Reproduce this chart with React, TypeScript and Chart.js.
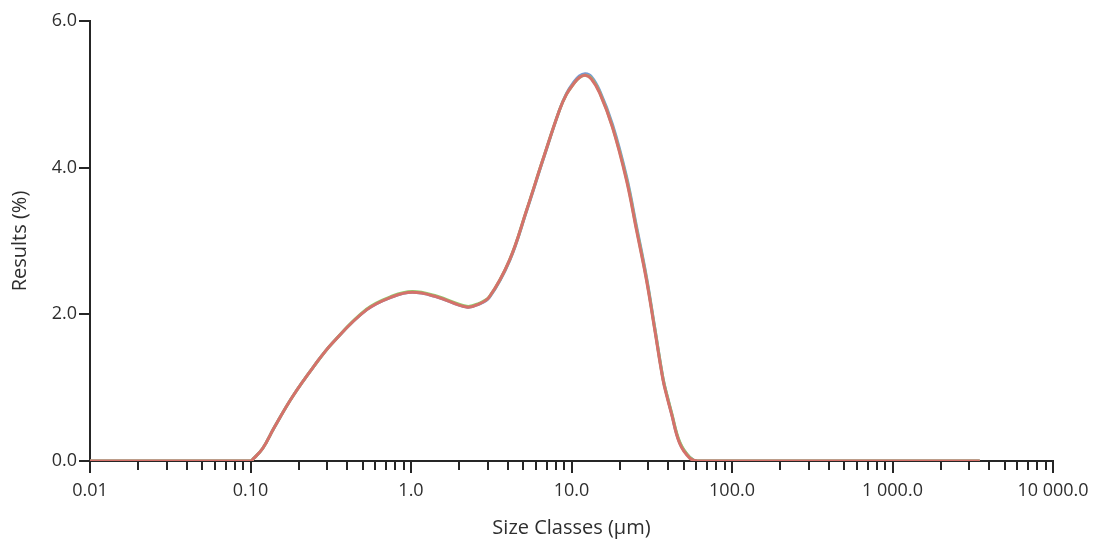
import { useEffect, useRef } from "react";
import { Chart, registerables } from "chart.js";

Chart.register(...registerables);

// Size classes (µm)
const sizeClasses = [
  0.01, 0.1, 0.104, 0.119, 0.14, 0.183, 0.25, 0.324, 0.528, 0.766, 1.02, 1.44,
  2.22, 2.65, 3.08, 4.11, 5.25, 6.61, 8.43, 9.3, 10.2, 11.2, 12.2, 13.3,
  14.97, 18.0, 22.0, 25.4, 29.3, 33.0, 37.2, 39.5, 41.9, 47.2, 54.5, 61, 3500,
];

// Results (%) for the three overlapping measurements
const seriesRed = [
  0, 0, 0.03, 0.17, 0.45, 0.88, 1.3, 1.61, 2.06, 2.24, 2.3, 2.24,
  2.1, 2.14, 2.24, 2.74, 3.42, 4.1, 4.79, 5.0, 5.13, 5.23, 5.26, 5.21,
  5.02, 4.55, 3.83, 3.15, 2.47, 1.79, 1.1, 0.86, 0.65, 0.24, 0.04, 0, 0,
];
const seriesGreen = [
  0, 0, 0.03, 0.17, 0.45, 0.88, 1.3, 1.61, 2.07, 2.25, 2.31, 2.25,
  2.11, 2.15, 2.24, 2.74, 3.42, 4.1, 4.79, 5.0, 5.13, 5.23, 5.26, 5.22,
  5.03, 4.56, 3.85, 3.17, 2.49, 1.81, 1.12, 0.88, 0.67, 0.26, 0.05, 0, 0,
];
const seriesBlue = [
  0, 0, 0.03, 0.17, 0.45, 0.88, 1.3, 1.61, 2.06, 2.24, 2.3, 2.24,
  2.1, 2.14, 2.23, 2.73, 3.41, 4.09, 4.79, 5.01, 5.15, 5.25, 5.28, 5.24,
  5.05, 4.59, 3.88, 3.2, 2.51, 1.82, 1.12, 0.88, 0.66, 0.25, 0.05, 0, 0,
];

const xTickValues = [0.01, 0.1, 1, 10, 100, 1000, 10000];
const xTickLabels = ["0.01", "0.10", "1.0", "10.0", "100.0", "1 000.0", "10 000.0"];
const yTickValues = [0, 2, 4, 6];
const yTickLabels = ["0.0", "2.0", "4.0", "6.0"];

const AXIS_COLOR = "#262626";
const TEXT_COLOR = "#2e2e2e";
const FONT = "'Open Sans', 'Noto Sans', sans-serif";

const isDecade = (v: number) => xTickValues.some((t) => Math.abs(Math.log10(v) - Math.log10(t)) < 1e-6);

const tickMarks = {
  id: "tickMarks",
  afterDraw(chart: any) {
    const xs = chart.scales.x;
    const ctx = chart.ctx;
    const bottom = chart.chartArea.bottom;
    ctx.save();
    ctx.strokeStyle = AXIS_COLOR;
    ctx.lineWidth = 2;
    xs.ticks.forEach((t: any) => {
      const px = Math.round(xs.getPixelForValue(t.value));
      const len = isDecade(t.value) ? 12 : 9;
      ctx.beginPath();
      ctx.moveTo(px, bottom);
      ctx.lineTo(px, bottom + len);
      ctx.stroke();
    });
    ctx.restore();
  },
};

function toXY(values: number[]) {
  return sizeClasses.map((s, i) => ({ x: s, y: values[i] }));
}

export default function App() {
  const ref = useRef<HTMLCanvasElement | null>(null);

  useEffect(() => {
    if (!ref.current) return;
    const mk = (label: string, values: number[], color: string) => ({
      label,
      data: toXY(values),
      borderColor: color,
      backgroundColor: color,
      borderWidth: 3,
      pointRadius: 0,
      fill: false,
      tension: 0.4,
    });
    const chart = new Chart(ref.current, {
      type: "line",
      data: {
        datasets: [
          mk("Red", seriesRed, "#d5716a"),
          mk("Green", seriesGreen, "#8fcf6e"),
          mk("Blue", seriesBlue, "#7596d6"),
        ],
      },
      plugins: [tickMarks],
      options: {
        animation: false,
        responsive: false,
        layout: { padding: { top: 21, right: 41, bottom: 0, left: 0 } },
        plugins: { legend: { display: false }, tooltip: { enabled: false } },
        scales: {
          x: {
            type: "logarithmic",
            min: 0.01,
            max: 10000,
            afterBuildTicks: (scale: any) => {
              const list: { value: number }[] = [];
              for (let i = 0; i < xTickValues.length - 1; i++) {
                for (let k = 1; k <= 9; k++) list.push({ value: xTickValues[i] * k });
              }
              list.push({ value: xTickValues[xTickValues.length - 1] });
              scale.ticks = list;
            },
            afterFit: (scale: any) => {
              scale.height = 81;
              scale.paddingLeft = 0;
              scale.paddingRight = 0;
            },
            grid: { display: false, drawTicks: false, drawOnChartArea: false },
            border: { display: true, color: AXIS_COLOR, width: 2 },
            ticks: {
              autoSkip: false,
              maxRotation: 0,
              padding: 19,
              color: TEXT_COLOR,
              font: { family: FONT, size: 18 },
              callback: (v: any) => {
                const idx = xTickValues.findIndex((t) => Math.abs(Math.log10(Number(v)) - Math.log10(t)) < 1e-6);
                return idx >= 0 ? xTickLabels[idx] : "";
              },
            },
            title: {
              display: true,
              text: "Size Classes (µm)",
              color: TEXT_COLOR,
              font: { family: FONT, size: 20 },
              padding: { top: 0, bottom: 2 },
            },
          },
          y: {
            type: "linear",
            min: 0,
            max: 6,
            afterBuildTicks: (scale: any) => {
              scale.ticks = yTickValues.map((v) => ({ value: v }));
            },
            afterFit: (scale: any) => {
              scale.width = 90;
            },
            grid: {
              display: true,
              drawOnChartArea: false,
              drawTicks: true,
              tickLength: 11,
              color: AXIS_COLOR,
              lineWidth: 2,
            },
            border: { display: true, color: AXIS_COLOR, width: 2 },
            ticks: {
              padding: 2,
              color: TEXT_COLOR,
              font: { family: FONT, size: 18 },
              callback: (v: any) => {
                const idx = yTickValues.indexOf(Number(v));
                return idx >= 0 ? yTickLabels[idx] : "";
              },
            },
            title: {
              display: true,
              text: "Results (%)",
              color: TEXT_COLOR,
              font: { family: FONT, size: 20 },
              padding: { top: 8, bottom: 0 },
            },
          },
        },
      },
    });
    return () => chart.destroy();
  }, []);

  return (
    <div style={{ position: "fixed", left: 0, top: 0, width: 1094, height: 542, background: "#fff" }}>
      <canvas ref={ref} width={1094} height={542} style={{ display: "block" }} />
    </div>
  );
}
